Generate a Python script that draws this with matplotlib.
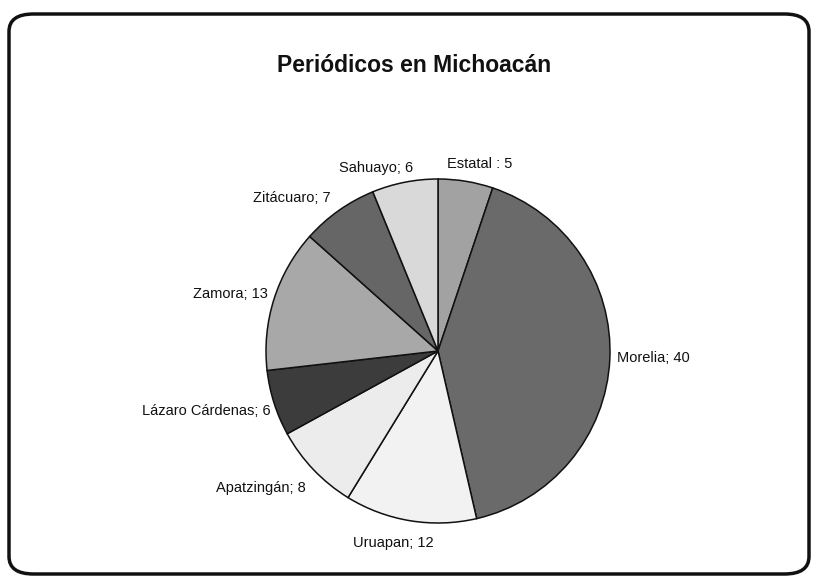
import matplotlib
matplotlib.use('Agg')
import matplotlib.pyplot as plt
from matplotlib.patches import FancyBboxPatch

plt.rcParams['font.family'] = ['Liberation Sans Narrow', 'Liberation Sans', 'DejaVu Sans']

# datos
ciudades = ['Estatal', 'Morelia', 'Uruapan', 'Apatzingán', 'Lázaro Cárdenas',
            'Zamora', 'Zitácuaro', 'Sahuayo']
periodicos = [5, 40, 12, 8, 6, 13, 7, 6]
colores = ['#a2a2a2', '#6a6a6a', '#f2f2f2', '#ececec', '#3c3c3c',
           '#a8a8a8', '#666666', '#d9d9d9']

etiquetas = []
for c, v in zip(ciudades, periodicos):
    sep = ' : ' if c == 'Estatal' else '; '
    etiquetas.append(f'{c}{sep}{v}')

# corrimiento de cada etiqueta en pixeles (x, y hacia abajo)
ajustes = [(-22, 0), (-10, -2), (26, 5), (5, 7), (13, 3), (10, 0), (2, 1), (12, 3)]

fig = plt.figure(figsize=(8.17, 5.8), dpi=100)
fig.patch.set_facecolor('white')

# marco redondeado
marco = FancyBboxPatch((9/817, 6/580), 800/817, 560/580,
                       boxstyle='round,pad=0,rounding_size=0.03',
                       transform=fig.transFigure, facecolor='none',
                       edgecolor='#111111', linewidth=2.5, zorder=0)
fig.patches.append(marco)

ax = fig.add_axes([266/817, 57/580, 344/817, 344/580])
wedges, textos = ax.pie(periodicos, labels=etiquetas, colors=colores,
                        startangle=90, counterclock=False, radius=1,
                        labeldistance=1.1,
                        wedgeprops=dict(edgecolor='#111111', linewidth=1.1),
                        textprops=dict(fontsize=10.5, color='#111111'))
ax.set_xlim(-1, 1)
ax.set_ylim(-1, 1)
ax.set_aspect('equal')

px = 2 / 344
for t, (dx, dy) in zip(textos, ajustes):
    x, y = t.get_position()
    t.set_position((x + dx * px, y - dy * px))

fig.text(414/817, 1 - 65/580, 'Periódicos en Michoacán', ha='center', va='center',
         fontsize=16.5, fontweight='bold', family=['Liberation Sans', 'DejaVu Sans'],
         color='#111111')

fig.savefig('out.png', dpi=100)
